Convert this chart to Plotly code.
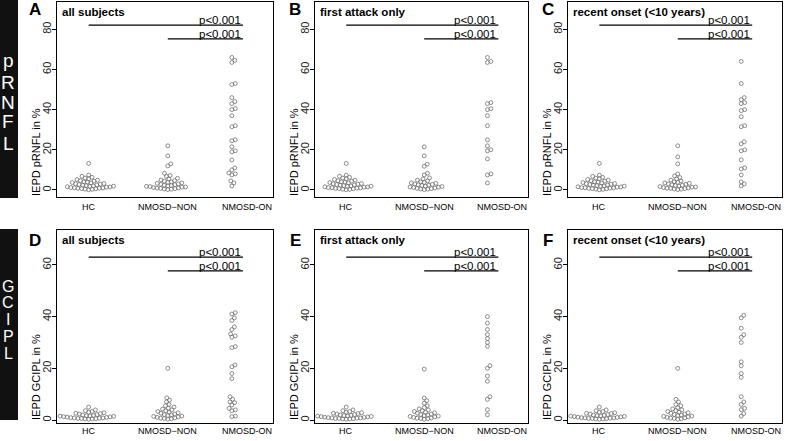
import numpy as np
import plotly.graph_objects as go

W, H = 785, 441
FONT = "Liberation Sans"

# ---------------- data ----------------
categories = ["HC", "NMOSD\u2212NON", "NMOSD-ON"]
panel_letters = ["A", "B", "C", "D", "E", "F"]
panel_titles = ["all subjects", "first attack only", "recent onset (<10 years)"]
p_text = "p<0.001"
y_titles = ["IEPD pRNFL in %", "IEPD GCIPL in %"]
row_labels = ["pRNFL", "GCIPL"]
yticks_rnfl = [0, 20, 40, 60, 80]
yticks_gcipl = [0, 20, 40, 60]

# pRNFL, healthy controls (same in A, B, C)
hc_rnfl = [0.1, 0.3, 0.4, 0.6, 0.7, 0.8, 0.9, 1.0,
           1.1, 1.2, 1.4, 1.5, 1.6, 1.8, 1.9,
           2.0, 2.2, 2.4, 2.5, 2.7, 2.9,
           3.1, 3.2, 3.5, 3.7, 3.9,
           4.1, 4.4, 4.6, 4.9,
           5.2, 5.6, 5.9,
           6.3, 6.8, 7.4, 13.2]
# pRNFL, NMOSD eyes without optic neuritis
non_rnfl_A = [0.2, 0.4, 0.5, 0.7, 0.8, 0.9, 1.0,
              1.2, 1.4, 1.5, 1.7, 1.8, 2.0,
              2.2, 2.4, 2.6, 2.8, 3.0,
              3.3, 3.5, 3.8, 4.0,
              4.4, 4.7, 5.0,
              5.5, 5.8, 6.8, 7.2, 8.3, 12.0, 13.0, 17.0, 22.0]
non_rnfl_B = [0.2, 0.4, 0.5, 0.7, 0.8, 1.0,
              1.2, 1.4, 1.5, 1.7, 1.9,
              2.2, 2.4, 2.6, 2.8, 3.0,
              3.3, 3.5, 3.8, 4.1,
              4.5, 4.9, 5.5, 6.0, 7.5, 8.3, 11.8, 12.8, 17.0, 21.5]
non_rnfl_C = [0.2, 0.4, 0.5, 0.7, 0.8, 0.9, 1.0,
              1.2, 1.4, 1.5, 1.7, 1.9,
              2.2, 2.4, 2.6, 2.8, 3.0,
              3.3, 3.5, 3.8, 4.1,
              4.5, 4.9, 5.5, 6.2, 7.0, 8.0, 13.0, 16.5, 22.0]
# pRNFL, NMOSD eyes with optic neuritis
on_rnfl_A = [66, 64.5, 63.5, 53, 52.5, 46, 44, 43, 40.5, 40, 37, 32, 31.5,
             25, 24.5, 21.5, 19.5, 19, 15, 11, 10, 8.5, 8, 7.5, 4.5, 3.5, 2]
on_rnfl_B = [66, 64, 63.5, 43.5, 43, 40.5, 40, 37, 32, 25, 22, 20, 19.5,
             15.5, 8, 7.5, 3.5]
on_rnfl_C = [64, 53, 46, 45, 43.5, 43, 40, 39.5, 36.5, 32, 31.5, 24, 23,
             20, 19.5, 15, 11, 10.5, 7.5, 4, 3, 2]

# GCIPL, healthy controls (same in D, E, F)
hc_gcipl = [0.3, 0.4, 0.4, 0.5, 0.6, 0.6, 0.7, 0.8, 0.8, 0.9, 1.0,
            1.1, 1.2, 1.3, 1.4, 1.5, 1.6, 1.7, 1.8, 1.9,
            2.1, 2.3, 2.5, 2.6, 2.8, 3.0,
            3.3, 3.6, 3.9, 5.0]
# GCIPL, NMOSD-NON
non_gcipl_D = [0.3, 0.5, 0.6, 0.7, 0.8, 1.0,
               1.2, 1.4, 1.5, 1.7, 1.9,
               2.1, 2.3, 2.6, 2.8, 3.0,
               3.3, 3.6, 3.9, 4.2, 4.6, 5.0, 5.5, 6.0, 7.0, 7.7, 8.6, 20.0]
non_gcipl_E = [0.3, 0.5, 0.6, 0.7, 0.8, 1.0,
               1.2, 1.4, 1.5, 1.7, 1.9,
               2.1, 2.3, 2.6, 2.8, 3.0,
               3.3, 3.6, 3.9, 4.3, 4.8, 5.5, 6.5, 7.5, 8.5, 19.7]
non_gcipl_F = [0.3, 0.5, 0.6, 0.7, 0.8, 1.0,
               1.2, 1.4, 1.5, 1.7, 1.9,
               2.1, 2.3, 2.6, 2.8, 3.0,
               3.3, 3.6, 3.9, 4.3, 4.8, 5.5, 6.0, 7.0, 8.0, 20.0]
# GCIPL, NMOSD-ON
on_gcipl_D = [41.5, 41, 39.5, 38.5, 36, 35, 33.3, 32.5, 32, 28.4, 28, 21.3, 20.6,
              18, 16, 9, 8, 7, 6.7, 5.8, 4.5, 3.9, 3.6, 1.5, 1.3]
on_gcipl_E = [40, 37.5, 35, 33, 31.5, 30, 28.5, 21, 20, 17, 15, 9, 8, 4, 2]
on_gcipl_F = [40.5, 39.5, 35.5, 33, 32, 30, 22.5, 21, 18, 16.5, 9, 7, 6, 4.5, 4, 2.5, 1.5]

sig_lines_rnfl = [82.1, 75.2]
sig_lines_gcipl = [63.0, 57.7]

panels = [
    (hc_rnfl, non_rnfl_A, on_rnfl_A),
    (hc_rnfl, non_rnfl_B, on_rnfl_B),
    (hc_rnfl, non_rnfl_C, on_rnfl_C),
    (hc_gcipl, non_gcipl_D, on_gcipl_D),
    (hc_gcipl, non_gcipl_E, on_gcipl_E),
    (hc_gcipl, non_gcipl_F, on_gcipl_F),
]

# ---------------- layout geometry (pixels) ----------------
cols_px = [(57, 273), (315, 528), (568, 782)]
rows_px = [(2, 197), (230, 423)]
yranges = [[-3.5, 93.6], [-1.16, 73.5]]
xrange_ = [0.6, 3.33]
group_pos = [1.0, 2.0, 2.81]
line_end = 2.95
xlabel_y = [207, 431]


def px2x(px):
    return px / W


def px2y(py):
    return 1 - py / H


def swarm(values, ppu_y, ppu_x, d=3.6):
    vals = np.asarray(values, dtype=float)
    order = np.argsort(vals, kind="stable")
    placed = []
    offs = np.zeros(len(vals))
    for i in order:
        y = vals[i] * ppu_y
        cands = [0.0]
        for (px, py) in placed:
            dy = abs(py - y)
            if dy < d:
                dx = np.sqrt(d * d - dy * dy)
                cands += [px + dx, px - dx]
        cands.sort(key=lambda c: (round(abs(c), 6), -c))
        chosen = cands[-1]
        for c in cands:
            if all((c - px) ** 2 + (y - py) ** 2 >= d * d - 1e-6 for px, py in placed):
                chosen = c
                break
        placed.append((chosen, y))
        offs[i] = chosen / ppu_x
    return offs


fig = go.Figure()
shapes = []
annotations = []

for k in range(6):
    r, c = divmod(k, 3)
    x0, x1 = cols_px[c]
    y0, y1 = rows_px[r]
    yr = yranges[r]
    ppu_x = (x1 - x0) / (xrange_[1] - xrange_[0])
    ppu_y = (y1 - y0) / (yr[1] - yr[0])
    xa = "x" if k == 0 else f"x{k+1}"
    ya = "y" if k == 0 else f"y{k+1}"
    for g, vals in enumerate(panels[k]):
        offs = swarm(vals, ppu_y, ppu_x)
        fig.add_trace(go.Scatter(
            x=group_pos[g] + offs, y=vals, mode="markers", xaxis=xa, yaxis=ya,
            marker=dict(symbol="circle-open", size=3.9, color="#707070",
                        line=dict(width=0.8, color="#707070")),
            showlegend=False, hoverinfo="skip"))
    xkey = "xaxis" if k == 0 else f"xaxis{k+1}"
    ykey = "yaxis" if k == 0 else f"yaxis{k+1}"
    fig.layout[xkey] = dict(
        domain=[px2x(x0), px2x(x1)], range=xrange_, anchor=ya,
        showline=True, mirror=True, linecolor="black", linewidth=1.3,
        showgrid=False, zeroline=False, ticks="", showticklabels=False)
    fig.layout[ykey] = dict(
        domain=[px2y(y1), px2y(y0)], range=yr, anchor=xa,
        showline=True, mirror=True, linecolor="black", linewidth=1.3,
        showgrid=False, zeroline=False, ticks="outside", ticklen=4,
        tickwidth=1, tickcolor="black",
        tickvals=yticks_rnfl if r == 0 else yticks_gcipl,
        tickangle=-90, tickfont=dict(family=FONT, size=11, color="#222"),
        ticklabelstandoff=-4)
    # x category labels
    for g, lab in enumerate(categories):
        annotations.append(dict(xref="paper", yref="paper",
                                x=px2x(x0 + (g + 1 - xrange_[0]) * ppu_x),
                                y=px2y(xlabel_y[r]),
                                text=lab, showarrow=False, xanchor="center", yanchor="middle",
                                font=dict(family=FONT, size=9, color="black")))
    # significance lines and p-values
    sl = sig_lines_rnfl if r == 0 else sig_lines_gcipl
    for j, (start, yv) in enumerate(zip([1.0, 2.0], sl)):
        shapes.append(dict(type="line", xref=xa, yref=ya, x0=start, x1=line_end,
                           y0=yv, y1=yv, line=dict(color="black", width=1.3)))
        annotations.append(dict(xref=xa, yref=ya, x=line_end, y=yv, text=p_text,
                                showarrow=False, xanchor="right", yanchor="bottom",
                                yshift=-3, font=dict(family=FONT, size=11.5, color="black")))
    # panel title
    annotations.append(dict(xref="paper", yref="paper", x=px2x(x0 + 3), y=px2y(y0 + 10),
                            text=f"<b>{panel_titles[c]}</b>", showarrow=False,
                            xanchor="left", yanchor="middle",
                            font=dict(family=FONT, size=11.5, color="black")))
    # panel letter
    lx = [35, 295, 548][c]
    ly = [10, 240][r]
    annotations.append(dict(xref="paper", yref="paper", x=px2x(lx), y=px2y(ly),
                            text=f"<b>{panel_letters[k]}</b>", showarrow=False,
                            xanchor="center", yanchor="middle",
                            font=dict(family=FONT, size=17, color="black")))
    # y-axis title
    annotations.append(dict(xref="paper", yref="paper", x=px2x(x0 - 21),
                            y=px2y([152, 377][r]), text=y_titles[r], textangle=-90,
                            showarrow=False, xanchor="center", yanchor="middle",
                            font=dict(family=FONT, size=11, color="black")))

# left black row bars with vertical letters
bars = [(0, 198), (229, 420)]
letter_y = [[60, 82, 102, 122, 143], [286, 302, 319, 336, 353]]
letter_size = [19, 16]
for r in range(2):
    shapes.append(dict(type="rect", xref="paper", yref="paper",
                       x0=0, x1=px2x(18), y0=px2y(bars[r][1]), y1=px2y(bars[r][0]),
                       fillcolor="#111111", line=dict(width=0)))
    for ch, yy in zip(row_labels[r], letter_y[r]):
        annotations.append(dict(xref="paper", yref="paper", x=px2x(8), y=px2y(yy),
                                text=ch, showarrow=False, xanchor="center", yanchor="middle",
                                font=dict(family=FONT, size=letter_size[r], color="white")))

fig.update_layout(
    template="none",
    width=W, height=H, margin=dict(l=0, r=0, t=0, b=0),
    paper_bgcolor="white", plot_bgcolor="white",
    font=dict(family=FONT, color="#222222"),
    shapes=shapes, annotations=annotations, showlegend=False)

fig.write_html("out.html",
               config={"displayModeBar": False, "staticPlot": True},
               post_script="document.body.style.margin='0px';"
                           "document.body.style.overflow='hidden';")
